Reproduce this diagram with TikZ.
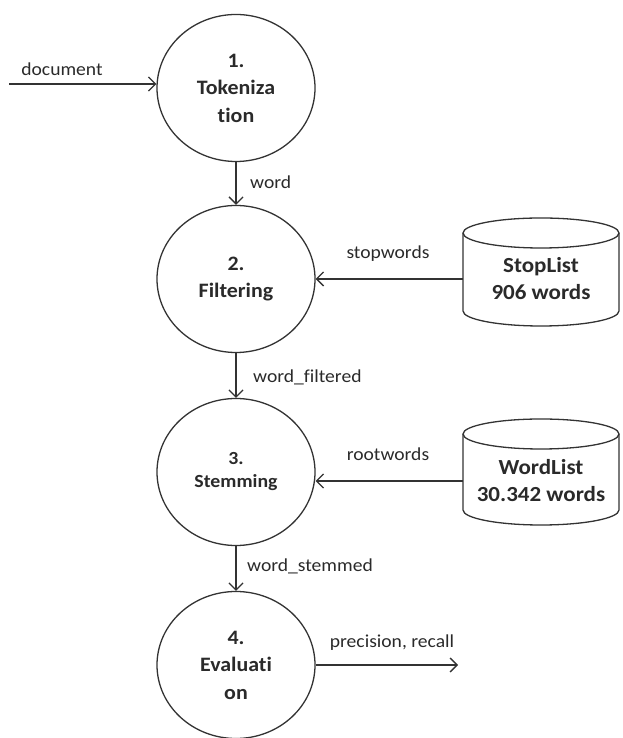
\documentclass[tikz,border=0pt]{standalone}
\usepackage{fontspec}
\setmainfont{Carlito}[FakeStretch=1.07,Ligatures=NoCommon]
\usetikzlibrary{arrows.meta,shapes.geometric}
\definecolor{ink}{HTML}{333333}
\definecolor{tink}{HTML}{2A2A2A}
\tikzset{
  line/.style={draw=ink, line width=1.3pt},
  arr/.style={line, -{Straight Barb[length=7pt,width=14pt,line width=1.3pt]}},
  proc/.style={ellipse, line, minimum width=158pt, minimum height=147pt, inner sep=0pt,
     align=center, text=tink, font=\fontsize{20.5}{27.5}\selectfont\bfseries},
  dbtext/.style={inner sep=0pt, minimum width=156pt, align=center, text=tink,
     font=\fontsize{21.5}{27}\selectfont\bfseries},
  lab/.style={inner sep=0pt, text=tink, font=\fontsize{18.3}{22}\selectfont}
}
\begin{document}
\begin{tikzpicture}[x=1pt,y=1pt]
\useasboundingbox (0,0) rectangle (622,738);
% processes
\node[proc] (c1) at (236,650) {1.\\Tokeniza\\tion};
\node[proc] (c2) at (236,459) {2.\\Filtering};
\node[proc, font=\fontsize{18.5}{23}\selectfont\bfseries] (c3) at (236,266) {\raisebox{3pt}{3.}\\\raisebox{3pt}{Stemming}};
\node[proc] (c4) at (236,73) {4.\\Evaluati\\on};
% data stores
\draw[line] (463,505) -- (463,427) arc[start angle=180,end angle=360,x radius=78,y radius=15] -- (619,505);
\draw[line] (541,505) ellipse[x radius=78, y radius=15];
\node[dbtext] (sl) at (541,459) {StopList\\906 words};
\draw[line] (463,304) -- (463,228) arc[start angle=180,end angle=360,x radius=78,y radius=15] -- (619,304);
\draw[line] (541,304) ellipse[x radius=78, y radius=15];
\node[dbtext] (wl) at (541,257) {WordList\\30.342 words};
% free ends
\coordinate (docin) at (9,654);
\coordinate (out) at (458,73);
% connectors
\draw[arr] (docin) -- (c1.west |- docin);
\draw[arr] (c1.south) -- (c2.north);
\draw[arr] (sl.west) -- (c2.east);
\draw[arr] (c2.south) -- (c3.north);
\draw[arr] (wl.west) -- (wl.west -| c3.east);
\draw[arr] (c3.south) -- (c4.north);
\draw[arr] (c4.east) -- (out);
% labels
\node[lab, anchor=base] (ldoc) at (62,662) {document};
\node[lab, anchor=base west] (lword) at (250,549) {word};
\node[lab, anchor=base] (lstop) at (388,479) {stopwords};
\node[lab, anchor=base west] (lwf) at (253,355) {word\_filtered};
\node[lab, anchor=base] (lroot) at (388,277) {rootwords};
\node[lab, anchor=base west] (lws) at (247,166) {word\_stemmed};
\node[lab, anchor=base] (lpr) at (392,90) {precision, recall};
\end{tikzpicture}
\end{document}
